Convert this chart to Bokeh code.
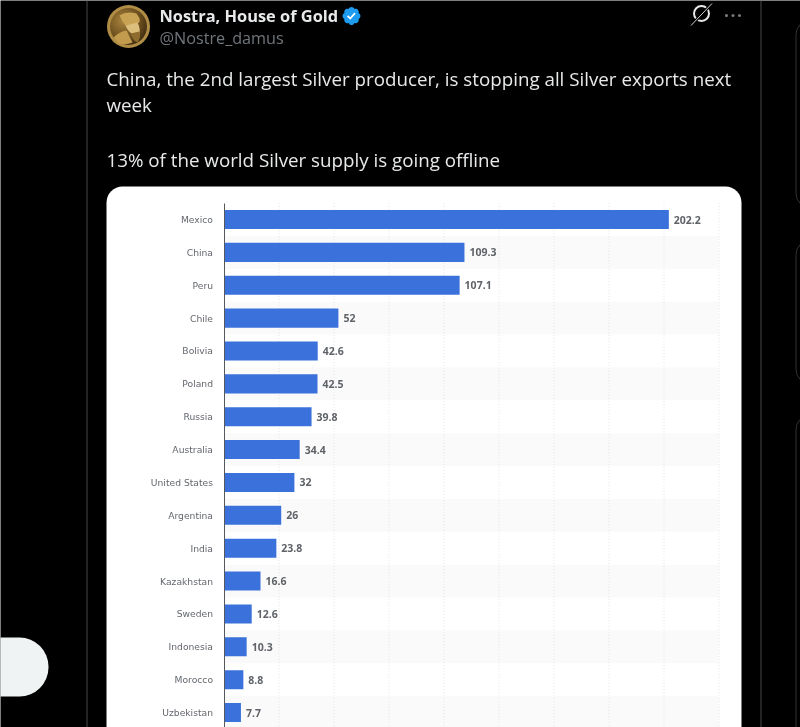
from urllib.parse import quote

from bokeh.core.properties import value
from bokeh.embed import file_html
from bokeh.models import BoxAnnotation, FixedTicker, Label, LinearAxis, Range1d, Span
from bokeh.plotting import figure
from bokeh.resources import INLINE

countries = ["Mexico", "China", "Peru", "Chile", "Bolivia", "Poland", "Russia", "Australia",
             "United States", "Argentina", "India", "Kazakhstan", "Sweden", "Indonesia",
             "Morocco", "Uzbekistan"]
output = [202.2, 109.3, 107.1, 52, 42.6, 42.5, 39.8, 34.4, 32, 26, 23.8, 16.6, 12.6, 10.3, 8.8, 7.7]
grid_ticks = [25, 50, 75, 100, 125, 150, 175, 200, 225]

# pixel layout of the screenshot, the ranges below turn it into chart units
W, H = 800, 727
X0, PX_PER_UNIT = 223.5, 2.2
ROW0, ROW_H = 219.0, 32.87


def to_x(px):
    return (px - X0) / PX_PER_UNIT


def to_y(px):
    return (px - ROW0) / ROW_H


rows = list(range(len(countries)))
striped = rows[1::2]

p = figure(width=W, height=H, output_backend="svg", toolbar_location=None,
           x_range=Range1d(to_x(0), to_x(W)), y_range=Range1d(to_y(H), to_y(0)),
           x_axis_type=None, y_axis_type=None, min_border=0,
           background_fill_color="#000000", border_fill_color="#000000",
           styles={"position": "fixed", "left": "0px", "top": "0px"})
p.outline_line_color = None
p.grid.visible = False


# screen y runs up from the bottom in bokeh, the numbers here are read from the top
def box(left, right, top, bottom, radius=0, fill=None, line=None):
    p.add_layout(BoxAnnotation(left=left, right=right, top=H - top, bottom=H - bottom,
                               left_units="screen", right_units="screen",
                               top_units="screen", bottom_units="screen",
                               border_radius=radius, fill_color=fill, fill_alpha=1 if fill else 0,
                               line_color=line, line_width=1, line_alpha=1 if line else 0,
                               level="underlay"))


# page around the tweet
for sx in (86.5, 760.5):
    p.add_layout(Span(location=sx, location_units="screen", dimension="height",
                      line_color="#45484b", line_width=1, level="underlay"))
box(795.5, 830, 20, 207, 14, None, "#2f3336")
box(795.5, 830, 240, 383, 14, None, "#2f3336")
box(795.5, 830, 415, 760, 14, None, "#2f3336")
box(-40, 48, 637, 696, 29, "#eff3f4")

# white card with the chart
box(106, 741, 186, 780, 16, "#ffffff")

p.hbar(y=striped, left=0, right=grid_ticks[-1], height=1, fill_color="#fafafa", line_color=None)
grid = p.segment(x0=grid_ticks, x1=grid_ticks, y0=[-0.5] * len(grid_ticks), y1=[rows[-1] + 0.5] * len(grid_ticks),
                 line_color="#e3e3e3", line_width=1)
grid.glyph.line_dash = [1, 2]
p.hbar(y=rows, left=0, right=output, height=0.58, fill_color="#3a71da", line_color=None)
p.text(x=output, y=rows, text=[f"{v:g}" for v in output], x_offset=5, text_baseline="middle",
       text_font=value("Open Sans"), text_font_size="10.5px", text_font_style="bold", text_color="#5f6368")

yaxis = LinearAxis(fixed_location=0, ticker=FixedTicker(ticks=rows),
                   major_label_overrides={i: c for i, c in enumerate(countries)},
                   major_tick_line_color=None, minor_tick_line_color=None,
                   major_label_standoff=5, major_label_text_font="DejaVu Sans",
                   major_label_text_font_size="9.2px", major_label_text_color="#63676d",
                   axis_line_color="#55585c", axis_line_width=1, bounds=(-0.5, to_y(H)))
p.add_layout(yaxis, "left")


# tweet texts
def text(sx, sy, s, size, color, style="normal"):
    p.add_layout(Label(x=sx, y=H - sy, x_units="screen", y_units="screen", text=s, text_font="Open Sans",
                       text_font_size=size, text_color=color, text_font_style=style,
                       text_baseline="middle"))


text(159, 15, "Nostra, House of Gold", "16.4px", "#e7e9ea", "bold")
text(159, 37, "@Nostre_damus", "16.2px", "#71767b")
text(106, 77.5, "China, the 2nd largest Silver producer, is stopping all Silver exports next", "18.75px", "#e7e9ea")
text(106, 103.5, "week", "18.75px", "#e7e9ea")
text(106, 158.5, "13% of the world Silver supply is going offline", "18.75px", "#e7e9ea")


def svg_icon(body, size, sx, sy, view="0 0 44 44"):
    doc = (f'<svg xmlns="http://www.w3.org/2000/svg" width="{size * 2}" height="{size * 2}" '
           f'viewBox="{view}">{body}</svg>')
    p.image_url(url=["data:image/svg+xml," + quote(doc)], x=[to_x(sx)], y=[to_y(sy)], w=size, h=size,
                w_units="screen", h_units="screen", anchor="top_left")


avatar = ('<defs><radialGradient id="g" cx="35%" cy="35%" r="75%"><stop offset="0" stop-color="#a8843c"/>'
          '<stop offset="0.6" stop-color="#6e5020"/><stop offset="1" stop-color="#3a2810"/></radialGradient></defs>'
          '<circle cx="22" cy="22" r="21.5" fill="#b08d45"/><circle cx="22" cy="22" r="18.5" fill="url(#g)"/>'
          '<path d="M13 11 Q20 6 30 9 L33 14 Q34 18 31 19 L19 21 Q15 16 13 11 Z" fill="#c8a353"/>'
          '<path d="M19 21 L31 18 Q34 24 33 30 L27 30 Q22 28 19 21 Z" fill="#dcbf7c"/>'
          '<path d="M24 29 L33 27 Q35 33 31 38 Q26 36 24 29 Z" fill="#8d6c2e"/>'
          '<path d="M7 33 Q13 27 20 26 L26 38 Q19 41 12 39 Z" fill="#c29c4c"/>')
svg_icon(avatar, 44, 106, 4)

badge = ('<circle cx="11" cy="11" r="6" fill="#fff"/>'
         '<path fill="#1d9bf0" d="M20.396 11c-.018-.646-.215-1.275-.57-1.816-.354-.54-.852-.972-1.438-1.246'
         '.223-.607.27-1.264.14-1.897-.131-.634-.437-1.218-.882-1.687-.47-.445-1.053-.75-1.687-.882'
         '-.633-.13-1.29-.083-1.897.14-.273-.587-.704-1.086-1.245-1.44S11.647 1.62 11 1.604'
         'c-.646.017-1.273.213-1.813.568s-.969.854-1.24 1.44c-.608-.223-1.267-.272-1.902-.14'
         '-.635.13-1.22.436-1.69.882-.445.47-.749 1.055-.878 1.688-.13.633-.08 1.29.144 1.896'
         '-.587.274-1.087.705-1.443 1.245-.356.54-.555 1.17-.574 1.817.02.647.218 1.276.574 1.817'
         '.356.54.856.972 1.443 1.245-.224.606-.274 1.263-.144 1.896.13.634.433 1.218.877 1.688'
         '.47.443 1.054.747 1.687.878.633.132 1.29.084 1.897-.136.274.586.705 1.084 1.246 1.439'
         '.54.354 1.17.551 1.816.569.647-.016 1.276-.213 1.817-.567s.972-.854 1.245-1.44'
         'c.604.239 1.266.296 1.903.164.636-.132 1.22-.447 1.68-.907.46-.46.776-1.044.908-1.681'
         's.075-1.299-.165-1.903c.586-.274 1.084-.705 1.439-1.246.354-.54.551-1.17.569-1.816z'
         'M9.662 14.85l-3.429-3.428 1.293-1.302 2.072 2.072 4.4-4.794 1.347 1.246z"/>')
svg_icon(badge, 21, 340.5, 5, "0 0 22 22")

grok = ('<circle cx="12" cy="11" r="7.5" fill="none" stroke="#e7e9ea" stroke-width="2"/>'
        '<path d="M1.5 23 L22.5 1" stroke="#000" stroke-width="3"/>'
        '<path d="M1.5 23 L22.5 1" stroke="#e7e9ea" stroke-width="0.9"/>')
svg_icon(grok, 24, 689, 2, "0 0 24 24")

dots = ''.join(f'<circle cx="{c}" cy="4" r="1.6" fill="#71767b"/>' for c in (2, 8.5, 15))
svg_icon(dots, 17, 724, 11, "0 0 17 17")

open("out.html", "w").write(file_html(p, INLINE))
